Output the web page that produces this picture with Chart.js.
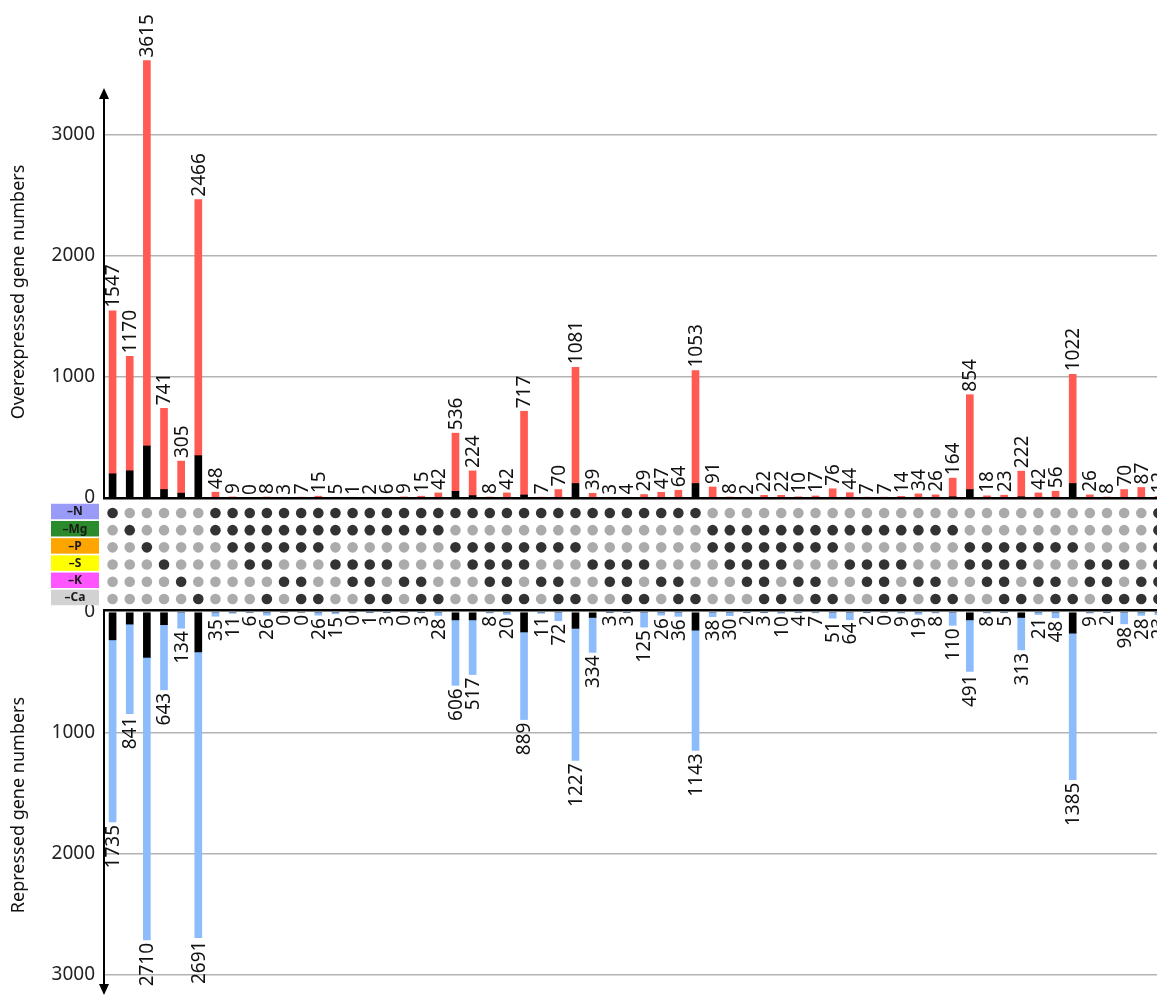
<!DOCTYPE html>
<html>
<head>
<meta charset="utf-8">
<script src="https://cdn.jsdelivr.net/npm/chart.js@4"></script>
<style>
  html, body { margin: 0; padding: 0; background: #fff; overflow: hidden; }
  #wrap { position: relative; width: 1167px; height: 997px; }
</style>
</head>
<body>
<div id="wrap"><canvas id="chart" width="1167" height="997"></canvas></div>
<script>
// Gene counts per stress combination (column order as in the figure)
const OVER_TOTAL = [1547, 1170, 3615, 741, 305, 2466,
	48, 9, 0, 8, 3, 7, 15, 5, 1, 2, 6, 9, 15, 42,
	536, 224, 8, 42, 717, 7, 70, 1081, 39, 3, 4, 29, 47, 64, 1053,
	91, 8, 2, 22, 22, 10, 17, 76, 44, 7, 7, 14, 34, 26, 164,
	854, 18, 23, 222, 42, 56, 1022, 26, 8, 70, 87, 12];
const OVER_CORE = [200, 225, 430, 70, 40, 350,
	0, 0, 0, 0, 0, 0, 0, 0, 0, 0, 0, 0, 0, 0,
	55, 20, 0, 0, 25, 0, 0, 120, 0, 0, 0, 0, 0, 0, 120,
	0, 0, 0, 0, 0, 0, 0, 0, 0, 0, 0, 0, 0, 0, 10,
	70, 0, 0, 10, 0, 0, 120, 0, 0, 0, 0, 0];
const REP_TOTAL = [1735, 841, 2710, 643, 134, 2691,
	35, 11, 6, 26, 0, 0, 26, 15, 0, 1, 3, 0, 3, 28,
	606, 517, 8, 20, 889, 11, 72, 1227, 334, 3, 3, 125, 26, 36, 1143,
	38, 30, 2, 3, 10, 4, 7, 51, 64, 2, 0, 9, 19, 8, 110,
	491, 8, 5, 313, 21, 48, 1385, 9, 2, 98, 28, 23];
const REP_CORE = [230, 100, 375, 105, 0, 330,
	0, 0, 0, 0, 0, 0, 0, 0, 0, 0, 0, 0, 0, 0,
	65, 65, 0, 0, 165, 0, 0, 135, 45, 0, 0, 0, 0, 0, 150,
	0, 0, 0, 0, 0, 0, 0, 0, 0, 0, 0, 0, 0, 0, 0,
	65, 0, 0, 45, 0, 0, 175, 0, 0, 0, 0, 0];

// Which stresses make up each column (1 = included), groups of ten columns
const STRESSES = ["–N", "–Mg", "–P", "–S", "–K", "–Ca"];
const STRESS_COLORS = ["#9a9af8", "#2b8a2b", "#ffa500", "#ffff00", "#ff55ff", "#d2d2d2"];
const MATRIX = [
	"1000001111 1111111111 1111111111 1111100000 0000000000 0000000000 01",
	"0100001111 1111111111 0000000000 0000011111 1111111111 0000000000 01",
	"0010000111 1110000000 1111111100 0000011111 1110000000 1111111000 01",
	"0001000011 0001111000 0111100011 1100001111 0001111000 1111000111 01",
	"0000100000 1100110110 0011011001 1011000110 1100110110 0110110110 11",
	"0000010001 0110011011 0001101100 1101100011 0110011011 0011011011 11",
].map((row) => row.replace(/ /g, "").split("").map(Number));

const OVER_TICKS = [0, 1000, 2000, 3000];
const REP_TICKS = [0, 1000, 2000, 3000];
const COLUMNS = OVER_TOTAL.map((_, i) => String(i + 1));

const FONT = "'Noto Sans', 'Open Sans', sans-serif";
const RED = "#ff5b52";
const BLUE = "#8cbcfb";
const AXIS_W = 104;

const fixedTicks = (list) => (scale) => {
	scale.ticks = list.map((v) => ({ value: v }));
};
// same width for every stacked y axis, and no extra room for tick labels
const fixWidth = (scale) => {
	scale.width = AXIS_W;
	scale.paddingTop = 0;
	scale.paddingBottom = 0;
};

// dot matrix points: row 0 (–N) sits at the top (y = 6)
const dots = (flag) => {
	const pts = [];
	MATRIX.forEach((row, r) => {
		row.forEach((v, c) => {
			if (v === flag) pts.push({ x: COLUMNS[c], y: 6 - r });
		});
	});
	return pts;
};

const arrow = (ctx, x, tipY, dir) => {
	ctx.beginPath();
	ctx.moveTo(x, tipY);
	ctx.lineTo(x - 5, tipY - dir * 11);
	ctx.lineTo(x + 5, tipY - dir * 11);
	ctx.closePath();
	ctx.fill();
};

const decor = {
	id: "decor",
	afterDatasetsDraw(chart) {
		const { ctx, chartArea } = chart;
		const xs = chart.scales.x;
		const yTop = chart.scales.yTop;
		const yMid = chart.scales.yMid;
		const yBot = chart.scales.yBot;
		const left = chartArea.left;
		const right = chart.width;

		// baselines framing the dot matrix
		ctx.save();
		ctx.fillStyle = "#000";
		ctx.fillRect(left - 1, yTop.getPixelForValue(0) - 1, right - left + 1, 2.5);
		ctx.fillRect(left - 1, yBot.getPixelForValue(0) - 3, right - left + 1, 2.5);

		// y axis lines with arrows
		ctx.strokeStyle = "#000";
		ctx.lineWidth = 2;
		ctx.beginPath();
		ctx.moveTo(left, yTop.getPixelForValue(0));
		ctx.lineTo(left, 97);
		ctx.moveTo(left, yBot.getPixelForValue(0) - 2);
		ctx.lineTo(left, 985);
		ctx.stroke();
		arrow(ctx, left, 88, -1);
		arrow(ctx, left, 995, 1);

		// value labels
		ctx.font = `19px ${FONT}`;
		ctx.fillStyle = "#111";
		ctx.textBaseline = "middle";
		OVER_TOTAL.forEach((v, i) => {
			ctx.save();
			ctx.translate(xs.getPixelForValue(i) + 1, yTop.getPixelForValue(v) - 3);
			ctx.rotate(-Math.PI / 2);
			ctx.textAlign = "left";
			ctx.fillText(String(v), 0, 0);
			ctx.restore();
		});
		REP_TOTAL.forEach((v, i) => {
			ctx.save();
			ctx.translate(xs.getPixelForValue(i) + 1, yBot.getPixelForValue(v) + 3);
			ctx.rotate(-Math.PI / 2);
			ctx.textAlign = "right";
			ctx.fillText(String(v), 0, 0);
			ctx.restore();
		});

		// stress legend boxes
		ctx.font = `bold 12px ${FONT}`;
		ctx.textAlign = "center";
		STRESSES.forEach((name, r) => {
			const cy = yMid.getPixelForValue(6 - r) - 1.5;
			ctx.fillStyle = STRESS_COLORS[r];
			ctx.fillRect(51, cy - 7.7, 48, 15.5);
			ctx.fillStyle = "#1a1a1a";
			ctx.fillText(name, 75, cy + 0.5);
		});

		// axis titles
		ctx.font = `18px ${FONT}`;
		ctx.fillStyle = "#111";
		[["Overexpressed gene numbers", 292], ["Repressed gene numbers", 805]].forEach(([t, y]) => {
			ctx.save();
			ctx.translate(19, y);
			ctx.rotate(-Math.PI / 2);
			ctx.fillText(t, 0, 0);
			ctx.restore();
		});
		ctx.restore();
	},
};

const tickStyle = {
	font: { family: FONT, size: 19 },
	color: "#222",
	padding: 9,
	callback: (v) => String(v),
};
const gridStyle = {
	color: (c) => (c.tick && c.tick.value === 0 ? "rgba(0,0,0,0)" : "#b3b3b3"),
	lineWidth: 1.5,
	drawTicks: false,
};

// one shared stack name keeps up and down bars in the same slot;
// they still stack separately because they use different y axes
new Chart(document.getElementById("chart").getContext("2d"), {
	type: "bar",
	data: {
		labels: COLUMNS,
		datasets: [
			{ data: OVER_CORE, backgroundColor: "#000", yAxisID: "yTop", stack: "col", barThickness: 7 },
			{ data: OVER_TOTAL.map((t, i) => t - OVER_CORE[i]), backgroundColor: RED, yAxisID: "yTop", stack: "col", barThickness: 7 },
			{ data: REP_CORE, backgroundColor: "#000", yAxisID: "yBot", stack: "col", barThickness: 7 },
			{ data: REP_TOTAL.map((t, i) => t - REP_CORE[i]), backgroundColor: BLUE, yAxisID: "yBot", stack: "col", barThickness: 7 },
			{ type: "scatter", data: dots(0), yAxisID: "yMid", backgroundColor: "#ababab", borderWidth: 0, pointRadius: 5.3 },
			{ type: "scatter", data: dots(1), yAxisID: "yMid", backgroundColor: "#333", borderWidth: 0, pointRadius: 5.3 },
		],
	},
	options: {
		responsive: false,
		animation: false,
		layout: { padding: 0, autoPadding: false },
		plugins: { legend: { display: false }, tooltip: { enabled: false } },
		scales: {
			x: { display: false, stacked: true, offset: true, grid: { display: false } },
			yTop: {
				position: "left", stack: "v", stackWeight: 498, weight: 3, stacked: true,
				min: 0, max: 4116,
				afterBuildTicks: fixedTicks(OVER_TICKS), afterFit: fixWidth,
				grid: gridStyle, border: { display: false }, ticks: tickStyle,
			},
			yMid: {
				position: "left", stack: "v", stackWeight: 114, weight: 2,
				min: 0.24, max: 6.87,
				afterFit: fixWidth,
				ticks: { display: false }, grid: { display: false }, border: { display: false },
			},
			yBot: {
				position: "left", stack: "v", stackWeight: 385, weight: 1, stacked: true,
				reverse: true, min: 0, max: 3182,
				afterBuildTicks: fixedTicks(REP_TICKS), afterFit: fixWidth,
				grid: gridStyle, border: { display: false }, ticks: tickStyle,
			},
		},
	},
	plugins: [decor],
});
</script>
</body>
</html>
